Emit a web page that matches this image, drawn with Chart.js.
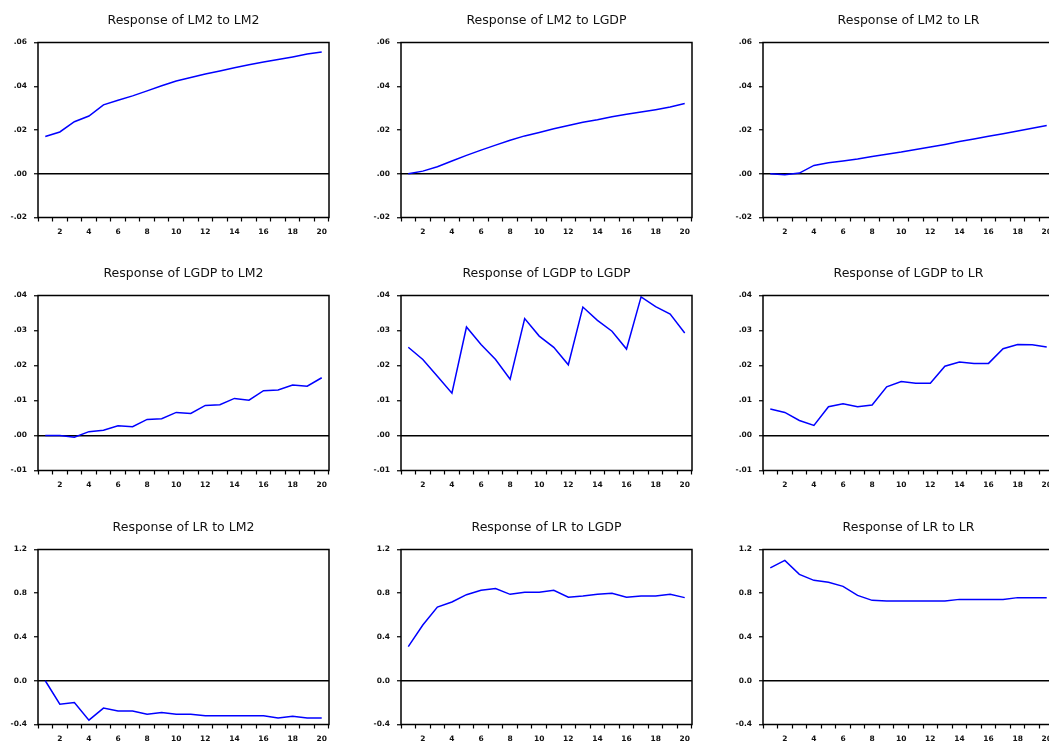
<!DOCTYPE html>
<html><head><meta charset="utf-8">
<script src="https://cdn.jsdelivr.net/npm/chart.js@4.4.1/dist/chart.umd.min.js"></script>
<style>
html,body{margin:0;padding:0;background:#fff;overflow:hidden;width:1049px;height:742px;position:relative;}
.p{position:absolute;}
</style></head><body>
<script>
const periods = [1,2,3,4,5,6,7,8,9,10,11,12,13,14,15,16,17,18,19,20];

const lm2ToLm2  = [0.0170,0.0191,0.0238,0.0264,0.0315,0.0336,0.0356,0.0379,0.0402,0.0424,0.0440,0.0456,0.0470,0.0485,0.0498,0.0511,0.0522,0.0534,0.0547,0.0557];
const lm2ToLgdp = [0.0000,0.0012,0.0032,0.0058,0.0084,0.0108,0.0131,0.0153,0.0173,0.0189,0.0206,0.0221,0.0235,0.0247,0.0261,0.0272,0.0282,0.0293,0.0305,0.0321];
const lm2ToLr   = [0.0000,-0.0005,0.0003,0.0038,0.0050,0.0058,0.0067,0.0079,0.0089,0.0099,0.0111,0.0122,0.0134,0.0147,0.0159,0.0171,0.0183,0.0195,0.0208,0.0221];

const lgdpToLm2  = [0.0000,0.0000,-0.0005,0.0011,0.0015,0.0028,0.0025,0.0046,0.0048,0.0066,0.0063,0.0086,0.0088,0.0106,0.0101,0.0128,0.0130,0.0144,0.0141,0.0165];
const lgdpToLgdp = [0.0252,0.0217,0.0169,0.0121,0.0310,0.0260,0.0217,0.0161,0.0334,0.0284,0.0252,0.0202,0.0367,0.0329,0.0298,0.0247,0.0396,0.0368,0.0347,0.0293];
const lgdpToLr   = [0.0076,0.0066,0.0043,0.0029,0.0082,0.0091,0.0082,0.0087,0.0139,0.0154,0.0149,0.0149,0.0198,0.0210,0.0206,0.0206,0.0248,0.0260,0.0259,0.0253];

const lrToLm2  = [0.000,-0.215,-0.200,-0.360,-0.250,-0.276,-0.276,-0.306,-0.290,-0.306,-0.306,-0.320,-0.320,-0.320,-0.320,-0.320,-0.340,-0.325,-0.340,-0.340];
const lrToLgdp = [0.312,0.510,0.674,0.720,0.787,0.827,0.843,0.790,0.810,0.810,0.827,0.763,0.775,0.790,0.800,0.763,0.775,0.775,0.790,0.760];
const lrToLr   = [1.032,1.100,0.973,0.918,0.900,0.863,0.780,0.735,0.729,0.729,0.729,0.729,0.729,0.744,0.744,0.744,0.744,0.760,0.760,0.760];

const titles = [
  ["Response of LM2 to LM2","Response of LM2 to LGDP","Response of LM2 to LR"],
  ["Response of LGDP to LM2","Response of LGDP to LGDP","Response of LGDP to LR"],
  ["Response of LR to LM2","Response of LR to LGDP","Response of LR to LR"]
];
const series = [
  [lm2ToLm2, lm2ToLgdp, lm2ToLr],
  [lgdpToLm2, lgdpToLgdp, lgdpToLr],
  [lrToLm2, lrToLgdp, lrToLr]
];
const yMin  = [-0.02, -0.01, -0.4];
const yMax  = [0.06, 0.04, 1.2];
const yStep = [0.02, 0.01, 0.4];
const yDecimals = [2, 2, 1];

const plotLeft = [38, 401, 763];
const plotTop  = [42, 295, 549];
const plotW = 291, plotH = 175;
const yAxisW = 38, xAxisH = 22, rightPad = 16;
const titleP1 = 2, titleFont = 12.5, titleP2 = 14.5;
const titleBlock = titleP1 + titleFont*1.2 + titleP2;

const framePlugin = {
  id: 'frame',
  afterDatasetsDraw(chart) {
    const {ctx, chartArea: a} = chart;
    ctx.save();
    ctx.strokeStyle = '#000';
    ctx.lineWidth = 1.5;
    ctx.strokeRect(a.left, a.top, a.right - a.left, a.bottom - a.top);
    ctx.restore();
  }
};

function fmt(v, dec) {
  let s = (Math.abs(v) < 1e-9 ? 0 : v).toFixed(dec);
  if (dec === 2) s = s.replace(/^(-?)0\./, '$1.');
  return s;
}

const tickFont = {family: "'DejaVu Sans', sans-serif", size: 7.5, weight: 'bold'};

for (let r = 0; r < 3; r++) {
  for (let c = 0; c < 3; c++) {
    const div = document.createElement('div');
    div.className = 'p';
    div.style.left = (plotLeft[c] - yAxisW) + 'px';
    div.style.top = (plotTop[r] - titleBlock) + 'px';
    div.style.width = (yAxisW + plotW + rightPad) + 'px';
    div.style.height = (titleBlock + plotH + xAxisH) + 'px';
    const cv = document.createElement('canvas');
    div.appendChild(cv);
    document.body.appendChild(div);
    const dec = yDecimals[r];
    new Chart(cv, {
      type: 'line',
      data: {
        labels: periods,
        datasets: [{
          data: series[r][c],
          borderColor: '#0000ff',
          borderWidth: 1.5,
          pointRadius: 0,
          tension: 0,
          fill: false
        }]
      },
      options: {
        responsive: true,
        maintainAspectRatio: false,
        animation: false,
        layout: {padding: {left: 0, right: rightPad, top: 0, bottom: 0}},
        plugins: {
          legend: {display: false},
          tooltip: {enabled: false},
          title: {
            display: true,
            text: titles[r][c],
            fullSize: false,
            color: '#111',
            font: {family: "'DejaVu Sans', sans-serif", size: titleFont, weight: 'normal'},
            padding: {top: titleP1, bottom: titleP2}
          }
        },
        scales: {
          x: {
            type: 'category',
            offset: true,
            border: {display: false},
            grid: {offset: true, drawOnChartArea: false, drawTicks: true, tickLength: 4, color: '#000', tickColor: '#000', tickWidth: 1.2},
            ticks: {
              autoSkip: false, maxRotation: 0, minRotation: 0, padding: 6,
              color: '#111', font: tickFont,
              callback: function(value) {
                const lab = this.getLabelForValue(value);
                return (lab % 2 === 0) ? String(lab) : '';
              }
            },
            afterFit: s => { s.height = xAxisH; }
          },
          y: {
            min: yMin[r], max: yMax[r],
            border: {display: false},
            grid: {
              drawTicks: true, tickLength: 4, lineWidth: 1.5, tickWidth: 1.2, tickColor: '#000',
              color: ctx => (ctx.tick && Math.abs(ctx.tick.value) < 1e-9) ? '#000' : 'rgba(0,0,0,0)'
            },
            ticks: {
              stepSize: yStep[r], padding: 7, color: '#111', font: tickFont,
              callback: v => fmt(v, dec)
            },
            afterFit: s => { s.width = yAxisW; }
          }
        }
      },
      plugins: [framePlugin]
    });
  }
}
</script>
</body></html>
